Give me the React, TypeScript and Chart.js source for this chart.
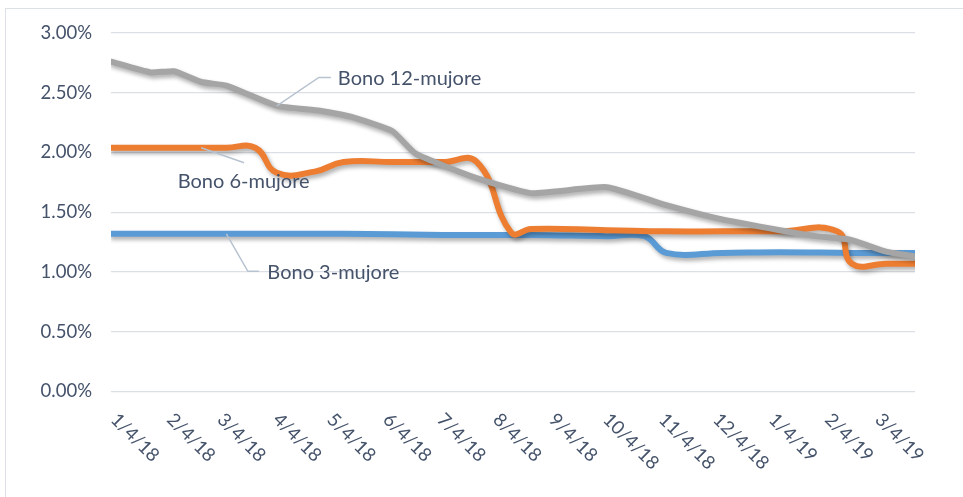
import React, { useEffect, useRef } from "react";
import { Chart, registerables } from "chart.js";

Chart.register(...registerables);

// ---- Data (dates as YYYY-MM-DD, yields in %) ----
const bono12Dates = [
  "2018-01-04", "2018-01-26", "2018-02-08", "2018-02-23", "2018-03-09",
  "2018-04-06", "2018-04-30", "2018-05-17", "2018-06-09", "2018-06-22",
  "2018-07-25", "2018-08-25", "2018-10-06", "2018-11-08", "2018-12-09",
  "2019-01-10", "2019-01-30", "2019-02-18", "2019-03-10", "2019-03-26",
];
const bono12Values = [
  2.76, 2.67, 2.68, 2.59, 2.56,
  2.39, 2.35, 2.3, 2.18, 1.99,
  1.79, 1.66, 1.71, 1.56, 1.44,
  1.35, 1.3, 1.27, 1.17, 1.13,
];

const bono6Dates = [
  "2018-01-04", "2018-01-26", "2018-02-23", "2018-03-09", "2018-03-25",
  "2018-04-06", "2018-04-27", "2018-05-13", "2018-06-09", "2018-07-07",
  "2018-07-26", "2018-08-14", "2018-08-25", "2018-10-06", "2018-11-08",
  "2018-12-09", "2019-01-10", "2019-02-11", "2019-02-19", "2019-03-10",
  "2019-03-26",
];
const bono6Values = [
  2.04, 2.04, 2.04, 2.04, 2.04,
  1.83, 1.84, 1.92, 1.92, 1.92,
  1.92, 1.33, 1.36, 1.35, 1.34,
  1.34, 1.34, 1.34, 1.07, 1.07,
  1.07,
];

const bono3Dates = [
  "2018-01-04", "2018-03-09", "2018-05-13", "2018-07-07", "2018-08-25",
  "2018-10-06", "2018-10-27", "2018-11-08", "2018-12-09", "2019-01-10",
  "2019-02-19", "2019-03-26",
];
const bono3Values = [
  1.32, 1.32, 1.32, 1.31, 1.31,
  1.3, 1.3, 1.16, 1.16, 1.165,
  1.16, 1.16,
];

const seriesNames = ["Bono 12-mujore", "Bono 6-mujore", "Bono 3-mujore"];
const seriesColors = ["#a5a5a5", "#ed7d31", "#5b9bd5"];

const tickDates = [
  "2018-01-04", "2018-02-04", "2018-03-04", "2018-04-04", "2018-05-04",
  "2018-06-04", "2018-07-04", "2018-08-04", "2018-09-04", "2018-10-04",
  "2018-11-04", "2018-12-04", "2019-01-04", "2019-02-04", "2019-03-04",
];
const yTickValues = [0, 0.5, 1, 1.5, 2, 2.5, 3];

// callout anchor point index per series
const calloutAnchors = [5, 2, 1];

// ---- helpers ----
const DAY = 86400000;
const parse = (s: string) => s.split("-").map(Number);
const BASE = Date.UTC(2018, 0, 4);
const toDay = (s: string) => {
  const [y, m, d] = parse(s);
  return (Date.UTC(y, m - 1, d) - BASE) / DAY;
};
const fmtDate = (s: string) => {
  const [y, m, d] = parse(s);
  return `${m}/${d}/${String(y).slice(2)}`;
};
const toPoints = (dates: string[], vals: number[]) =>
  dates.map((d, i) => ({ x: toDay(d), y: vals[i] }));

const FONT = "Lato, 'Open Sans', sans-serif";
const TEXT_COLOR = "#44526a";
const GRID_COLOR = "#dcdfe5";
const LEADER_COLOR = "#b7c3d0";

const shadowPlugin = {
  id: "lineShadow",
  beforeDatasetDraw(chart: any) {
    const ctx = chart.ctx;
    ctx.save();
    ctx.shadowColor = "rgba(0,0,0,0.32)";
    ctx.shadowBlur = 4;
    ctx.shadowOffsetX = 2;
    ctx.shadowOffsetY = 3;
  },
  afterDatasetDraw(chart: any) {
    chart.ctx.restore();
  },
};

const xLabelPlugin = {
  id: "xLabels",
  afterDraw(chart: any) {
    const ctx = chart.ctx;
    const xs = chart.scales.x;
    const y0 = chart.chartArea.bottom + 25;
    ctx.save();
    ctx.font = `18.5px ${FONT}`;
    ctx.fillStyle = TEXT_COLOR;
    ctx.textAlign = "left";
    ctx.textBaseline = "middle";
    tickDates.forEach((d) => {
      const x = xs.getPixelForValue(toDay(d));
      ctx.save();
      ctx.translate(x + 3, y0);
      ctx.rotate(Math.PI / 4);
      ctx.fillText(fmtDate(d), 0, 0);
      ctx.restore();
    });
    ctx.restore();
  },
};

const calloutPlugin = {
  id: "callouts",
  afterDatasetsDraw(chart: any) {
    const ctx = chart.ctx;
    const xs = chart.scales.x;
    const ys = chart.scales.y;
    const anchor = (si: number) => {
      const ds = chart.data.datasets[si];
      const p = ds.data[calloutAnchors[si]];
      return { x: xs.getPixelForValue(p.x), y: ys.getPixelForValue(p.y) };
    };
    ctx.save();
    ctx.strokeStyle = LEADER_COLOR;
    ctx.lineWidth = 1.5;
    ctx.font = `20px ${FONT}`;
    ctx.fillStyle = TEXT_COLOR;
    ctx.textBaseline = "middle";

    // 12-month
    let a = anchor(0);
    ctx.beginPath();
    ctx.moveTo(a.x, a.y);
    ctx.lineTo(a.x + 42, a.y - 28.5);
    ctx.lineTo(a.x + 54, a.y - 28.5);
    ctx.stroke();
    ctx.textAlign = "left";
    ctx.fillText(seriesNames[0], a.x + 61, a.y - 27);

    // 6-month
    a = anchor(1);
    ctx.beginPath();
    ctx.moveTo(a.x, a.y);
    ctx.lineTo(a.x + 43, a.y + 15);
    ctx.stroke();
    ctx.textAlign = "center";
    ctx.fillText(seriesNames[1], a.x + 42.5, a.y + 34);

    // 3-month
    a = anchor(2);
    ctx.beginPath();
    ctx.moveTo(a.x, a.y);
    ctx.lineTo(a.x + 21.5, a.y + 37.5);
    ctx.lineTo(a.x + 32.5, a.y + 37.5);
    ctx.stroke();
    ctx.textAlign = "left";
    ctx.fillText(seriesNames[2], a.x + 41, a.y + 38.5);

    ctx.restore();
  },
};

export default function App() {
  const canvasRef = useRef<HTMLCanvasElement | null>(null);

  useEffect(() => {
    const canvas = canvasRef.current;
    if (!canvas) return;
    const lastDay = toDay(bono12Dates[bono12Dates.length - 1]);
    const chart = new Chart(canvas, {
      type: "line",
      data: {
        datasets: [
          {
            label: seriesNames[0],
            data: toPoints(bono12Dates, bono12Values),
            borderColor: seriesColors[0],
            borderWidth: 6,
            tension: 0.15,
            pointRadius: 0,
            borderCapStyle: "round",
            borderJoinStyle: "round",
          },
          {
            label: seriesNames[1],
            data: toPoints(bono6Dates, bono6Values),
            borderColor: seriesColors[1],
            borderWidth: 6,
            tension: 0.45,
            pointRadius: 0,
            borderCapStyle: "round",
            borderJoinStyle: "round",
          },
          {
            label: seriesNames[2],
            data: toPoints(bono3Dates, bono3Values),
            borderColor: seriesColors[2],
            borderWidth: 6,
            tension: 0.4,
            pointRadius: 0,
            borderCapStyle: "round",
            borderJoinStyle: "round",
          },
        ],
      },
      options: {
        animation: false,
        responsive: false,
        devicePixelRatio: 1,
        layout: { padding: { left: 0, top: 33, right: 48, bottom: 105.5 } },
        plugins: {
          legend: { display: false },
          tooltip: { enabled: false },
        },
        scales: {
          x: {
            type: "linear",
            min: 0,
            max: lastDay,
            ticks: { display: false },
            grid: { display: false },
            border: { display: false },
            afterFit: (s: any) => {
              s.height = 0;
            },
          },
          y: {
            min: 0,
            max: 3,
            afterBuildTicks: (s: any) => {
              s.ticks = yTickValues.map((v) => ({ value: v }));
            },
            ticks: {
              callback: (v: any) => Number(v).toFixed(2) + "%",
              color: TEXT_COLOR,
              font: { family: FONT, size: 18.5 },
              padding: 19,
            },
            grid: { color: GRID_COLOR, lineWidth: 1.3, drawTicks: false },
            border: { display: false },
            afterFit: (s: any) => {
              s.width = 111;
            },
          },
        },
      },
      plugins: [shadowPlugin, calloutPlugin, xLabelPlugin],
    } as any);
    return () => chart.destroy();
  }, []);

  return (
    <div
      style={{
        position: "fixed",
        left: 0,
        top: 0,
        width: 963,
        height: 497,
        overflow: "hidden",
        background: "#ffffff",
      }}
    >
      <div
        style={{
          position: "absolute",
          left: 5,
          top: 8,
          width: 1100,
          height: 700,
          border: "1.5px solid #dde1e7",
        }}
      />
      <canvas
        ref={canvasRef}
        width={963}
        height={497}
        style={{ position: "absolute", left: 0, top: 0, width: 963, height: 497 }}
      />
    </div>
  );
}
